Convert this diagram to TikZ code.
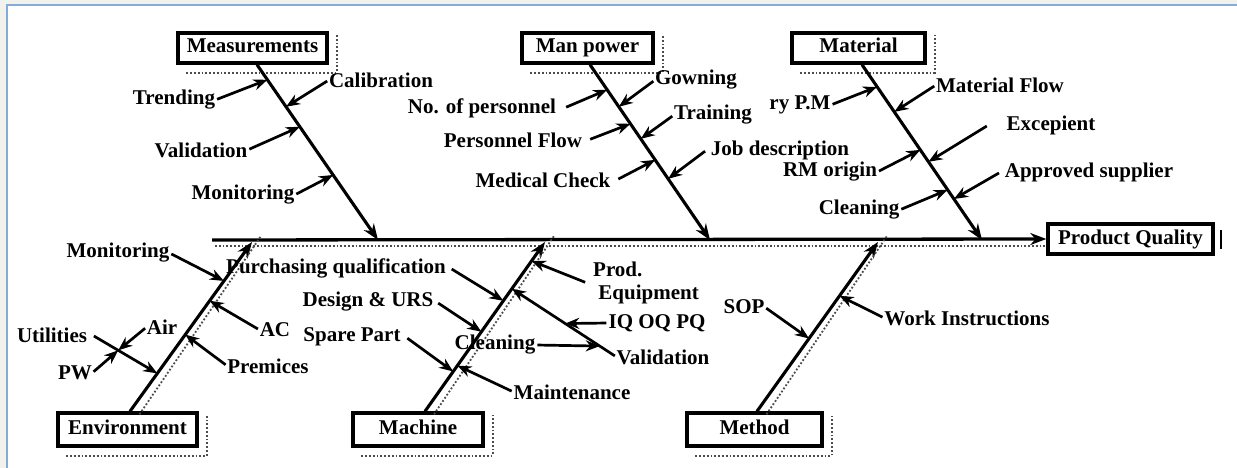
\documentclass[tikz,border=0pt]{standalone}
\usepackage{fontspec}
\setmainfont{Liberation Serif}
\usetikzlibrary{arrows.meta}
\definecolor{framegray}{HTML}{F1F2EC}
\definecolor{frameblue}{HTML}{86ABDB}
\begin{document}
\begin{tikzpicture}[x=1pt,y=-1pt,
  lbl/.style={font=\fontsize{21}{22}\selectfont\bfseries, inner sep=0pt},
  catbox/.style={draw, line width=3.4pt, fill=white, inner sep=0pt,
    text height=14pt, text depth=4pt,
    font=\fontsize{21}{22}\selectfont\bfseries},
  bone/.style={line width=3.1pt, -{Stealth[length=16pt,width=12pt]}},
  sub/.style={line width=2.7pt, -{Stealth[length=14pt,width=11pt]}, shorten <=2pt},
  shad/.style={line width=1.8pt, dotted, black!70}]
\useasboundingbox (0,0) rectangle (1237,468);
\fill[white] (0,0) rectangle (1237,468);
\fill[framegray] (0,0) rectangle (1237,5);
\fill[framegray] (0,0) rectangle (7,468);
\draw[frameblue, line width=1.6pt] (7,468) -- (7,5) -- (1237,5);

% category boxes
\node[catbox, minimum width=149pt, minimum height=30pt] (mes) at (252.5,48) {Measurements};
\node[catbox, minimum width=131pt, minimum height=30pt] (man) at (587.5,48) {Man power};
\node[catbox, minimum width=133pt, minimum height=30pt] (mat) at (858.5,48) {Material};
\node[catbox, minimum width=139pt, minimum height=33pt] (env) at (127.5,429.5) {Environment};
\node[catbox, minimum width=130pt, minimum height=33pt] (mac) at (418,429.5) {Machine};
\node[catbox, minimum width=135pt, minimum height=33pt] (met) at (754.5,429.5) {Method};
\node[catbox, minimum width=165pt, minimum height=30pt] (pq) at (1130.5,239) {Product Quality};

% shadows of boxes
\foreach \b in {mes,man,mat,env,mac,met}{
  \draw[shad] ([xshift=10pt,yshift=-8pt]\b.south west) -- ([xshift=8pt,yshift=-8pt]\b.south east)
              -- ([xshift=8pt,yshift=-4pt]\b.north east);
}
\draw[line width=2.4pt] ([xshift=6pt,yshift=-8pt]pq.north east) -- ([xshift=6pt,yshift=7pt]pq.south east);

% spine
\coordinate (sp0) at (212,240);
\draw[line width=3.3pt, -{Stealth[length=16pt,width=12pt]}] (sp0) -- (pq.west);
\draw[shad] (215,246) -- (pq.west |- 0,246);

% spine targets
\coordinate (s1) at (378,240);
\coordinate (s2) at (710,240);
\coordinate (s3) at (982,240);
\coordinate (s4) at (252,242);
\coordinate (s5) at (545,242);
\coordinate (s6) at (878,242);

% bones
\draw[bone] ([xshift=4.5pt]mes.south) -- (s1);
\draw[bone] ([xshift=2.5pt]man.south) -- (s2);
\draw[bone] ([xshift=3.5pt]mat.south) -- (s3);
\draw[bone] ([xshift=2.5pt]env.north) -- (s4);
\draw[bone] ([xshift=7pt]mac.north) -- (s5);
\draw[bone] ([xshift=2.5pt]met.north) -- (s6);
% bone shadows (bottom)
\draw[shad] ([xshift=12pt,yshift=-3pt]env.north) -- ([xshift=9pt,yshift=6pt]s4);
\draw[shad] ([xshift=16pt,yshift=-3pt]mac.north) -- ([xshift=9pt,yshift=6pt]s5);
\draw[shad] ([xshift=12pt,yshift=-3pt]met.north) -- ([xshift=9pt,yshift=6pt]s6);

% points on bones
\path ([xshift=4.5pt]mes.south) -- (s1)
  coordinate[pos=0.086] (m1) coordinate[pos=0.24] (m2)
  coordinate[pos=0.354] (m3) coordinate[pos=0.629] (m4);
\path ([xshift=2.5pt]man.south) -- (s2)
  coordinate[pos=0.143] (p1) coordinate[pos=0.24] (p2)
  coordinate[pos=0.337] (p3) coordinate[pos=0.423] (p4)
  coordinate[pos=0.543] (p5) coordinate[pos=0.651] (p6);
\path ([xshift=3.5pt]mat.south) -- (s3)
  coordinate[pos=0.126] (q1) coordinate[pos=0.269] (q2)
  coordinate[pos=0.486] (q3) coordinate[pos=0.554] (q4)
  coordinate[pos=0.714] (q5) coordinate[pos=0.766] (q6);
\path ([xshift=2.5pt]env.north) -- (s4)
  coordinate[pos=0.224] (e1) coordinate[pos=0.453] (e2)
  coordinate[pos=0.653] (e3) coordinate[pos=0.77] (e4);
\path ([xshift=7pt]mac.north) -- (s5)
  coordinate[pos=0.27] (c1) coordinate[pos=0.235] (c2)
  coordinate[pos=0.47] (c3) coordinate[pos=0.653] (c4)
  coordinate[pos=0.724] (c5) coordinate[pos=0.888] (c6);
\path ([xshift=2.5pt]met.north) -- (s6)
  coordinate[pos=0.43] (t1) coordinate[pos=0.682] (t2);

% Measurements causes
\node[lbl] (tre) at (174,100) {Trending};
\node[lbl] (cal) at (381,80) {Calibration};
\node[lbl] (val) at (201,150) {Validation};
\node[lbl] (mon) at (243,195) {Monitoring};
\draw[sub] (tre.east) -- (m1);
\draw[sub] (cal.west) -- (m2);
\draw[sub] (val.east) -- (m3);
\draw[sub] (mon.east) -- (m4);

% Man power causes
\node[lbl] (gow) at (696,80) {Gowning};
\node[lbl] (nop) at (482,108) {No. of personnel};
\node[lbl] (trn) at (713,115) {Training};
\node[lbl] (pfl) at (513,140) {Personnel Flow};
\node[lbl] (job) at (780,150) {Job description};
\node[lbl] (med) at (543,180) {Medical Check};
\draw[sub] ([xshift=8pt]nop.east) -- (p1);
\draw[sub] (gow.west) -- (p2);
\draw[sub] ([xshift=6pt]pfl.east) -- (p3);
\draw[sub] (trn.west) -- (p4);
\draw[sub] ([xshift=6pt]med.east) -- (p5);
\draw[sub] ([xshift=-4pt]job.west) -- (p6);

% Material causes
\node[lbl] (rpm) at (800,105) {ry P.M};
\node[lbl] (mfl) at (1000,85) {Material Flow};
\node[lbl] (exc) at (1051,125) {Excepient};
\node[lbl] (rmo) at (830,172) {RM origin};
\node[lbl] (app) at (1089,172) {Approved supplier};
\node[lbl] (cln) at (859,210) {Cleaning};
\draw[sub] (rpm.east) -- (q1);
\draw[sub] (mfl.west) -- (q2);
\draw[sub] ([xshift=-18pt]exc.west) -- (q4);
\draw[sub] (rmo.east) -- (q3);
\draw[sub] ([xshift=-4pt]app.west) -- (q6);
\draw[sub] (cln.east) -- (q5);

% Environment causes
\node[lbl] (emo) at (118,253) {Monitoring};
\node[lbl] (eac) at (275,330) {AC};
\node[lbl] (pre) at (268,366) {Premices};
\node[lbl] (uti) at (52,335) {Utilities};
\node[lbl] (air) at (162,327) {Air};
\node[lbl] (pw) at (75,373) {PW};
\draw[sub] (emo.east) -- (e4);
\draw[sub] (eac.west) -- (e3);
\draw[sub] (pre.west) -- (e2);
\draw[sub] ([xshift=5pt]uti.east) -- (e1);
\path ([xshift=5pt]uti.east) -- (e1) coordinate[pos=0.4] (u1);
\draw[sub] (air.west) -- (u1);
\draw[sub] (pw.east) -- (u1);

% Machine causes
\node[lbl] (pur) at (336,268) {Purchasing qualification};
\node[lbl] (des) at (368,302) {Design \& URS};
\node[lbl] (spa) at (352,337) {Spare Part};
\node[lbl, align=left, anchor=west] (prd) at (593,283) {Prod.\\[1pt]\ Equipment};
\node[lbl] (mval) at (663,357) {Validation};
\node[lbl] (iq) at (657,323) {IQ OQ PQ};
\node[lbl] (mcl) at (495,345) {Cleaning};
\node[lbl] (mnt) at (572,392) {Maintenance};
\draw[sub] ([xshift=4pt]pur.east) -- (c4);
\draw[sub] ([xshift=3pt]des.east) -- (c3);
\draw[sub] ([xshift=5pt]spa.east) -- (c2);
\draw[sub] ([xshift=-6pt]prd.west) -- (c6);
\draw[sub] (mval.west) -- (c5);
\path (mval.west) -- (c5) coordinate[pos=0.49] (v1) coordinate[pos=0.16] (v2);
\draw[sub] (iq.west) -- (v1);
\draw[sub] (mcl.east) -- (v2);
\draw[sub] (mnt.west) -- (c1);

% Method causes
\node[lbl] (sop) at (744,307) {SOP};
\node[lbl] (wki) at (967,318) {Work Instructions};
\draw[sub] (sop.east) -- (t1);
\draw[sub] (wki.west) -- (t2);
\end{tikzpicture}
\end{document}
